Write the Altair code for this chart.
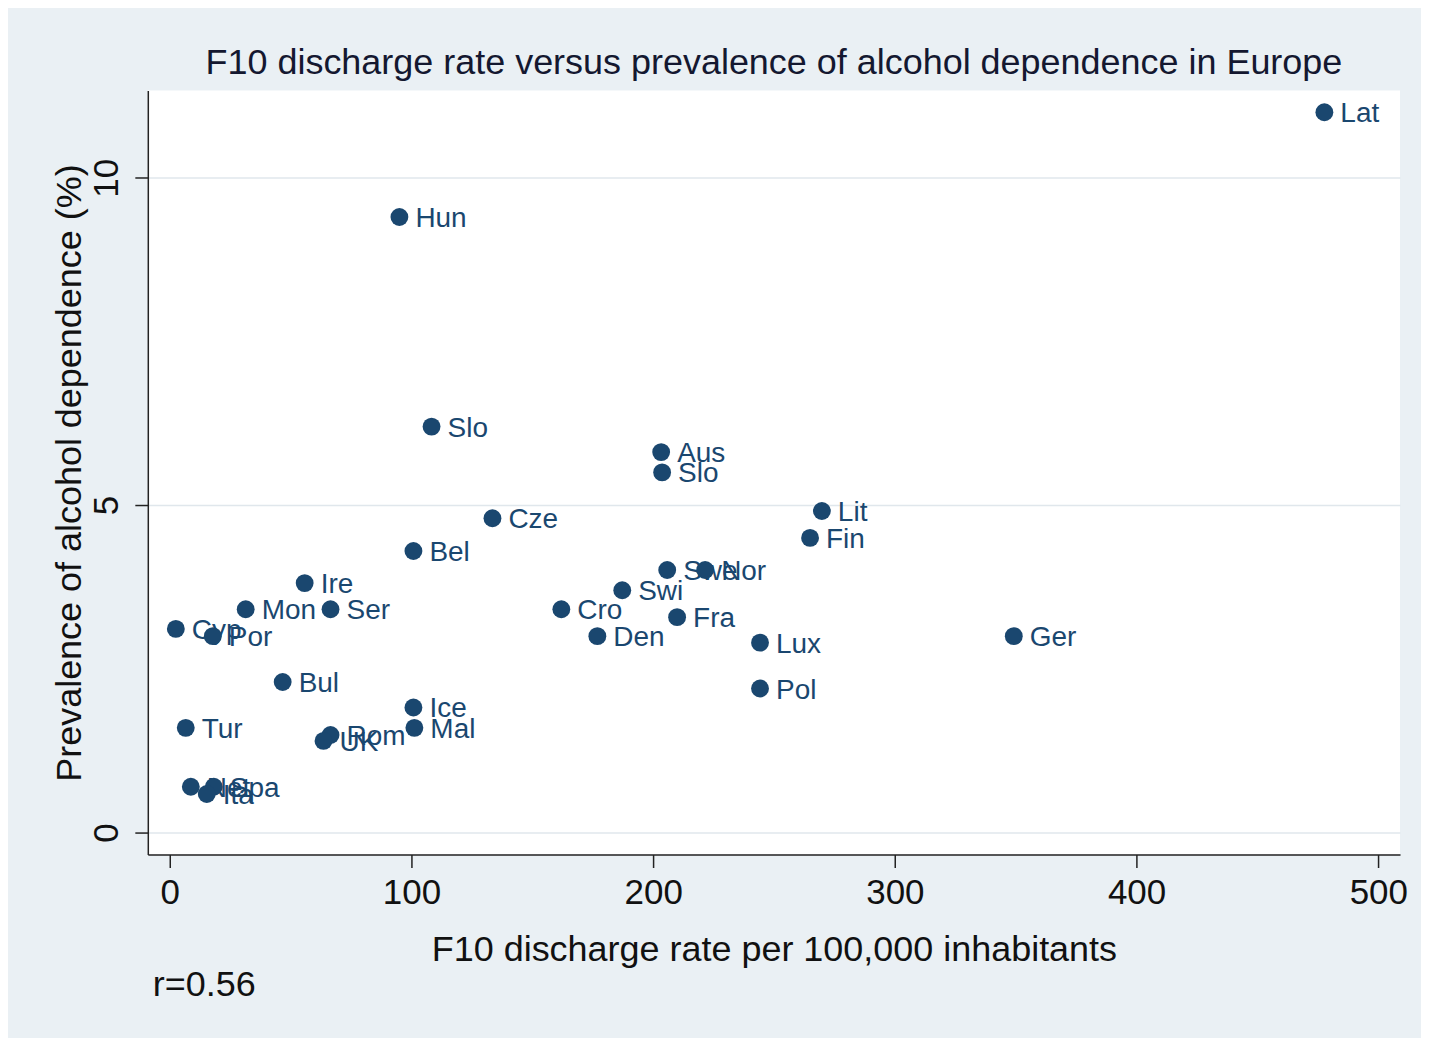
import altair as alt
import pandas as pd

countries = ["Lat", "Hun", "Slo", "Aus", "Slo", "Cze", "Lit", "Fin", "Bel", "Swe", "Nor",
             "Swi", "Ire", "Mon", "Ser", "Cro", "Fra", "Cyp", "Por", "Den", "Lux", "Ger",
             "Bul", "Pol", "Ice", "Mal", "Tur", "Rom", "UK", "Net", "Spa", "Ita"]
discharge = [477.7, 95.0, 108.3, 203.3, 203.7, 133.5, 269.8, 264.9, 100.8, 205.8, 221.5,
             187.2, 55.8, 31.4, 66.5, 162.0, 209.9, 2.5, 17.8, 176.9, 244.2, 349.2,
             46.7, 244.2, 100.8, 101.2, 6.6, 66.5, 63.6, 8.7, 18.2, 15.3]
prevalence = [11.0, 9.4, 6.2, 5.81, 5.5, 4.8, 4.91, 4.5, 4.3, 4.01, 4.01,
              3.7, 3.81, 3.41, 3.41, 3.41, 3.29, 3.11, 3.0, 3.0, 2.9, 3.0,
              2.3, 2.2, 1.91, 1.6, 1.6, 1.49, 1.4, 0.7, 0.7, 0.59]
x_ticks = [0, 100, 200, 300, 400, 500]
y_ticks = [0, 5, 10]
note = ["r=0.56"]

df = pd.DataFrame({"country": countries, "discharge": discharge, "prevalence": prevalence})
note_df = pd.DataFrame({"note": note})

FONT = "Liberation Sans"
NAVY = "#1a476f"
INK = "#111111"

x_enc = alt.X("discharge:Q",
              scale=alt.Scale(domain=[-9.1, 509], nice=False, zero=False),
              axis=alt.Axis(values=x_ticks, title="F10 discharge rate per 100,000 inhabitants",
                            grid=False, tickSize=13, labelPadding=8,
                            labelBaseline="top", titleBaseline="alphabetic", titleY=106))
y_enc = alt.Y("prevalence:Q",
              scale=alt.Scale(domain=[-0.335, 11.33], nice=False, zero=False),
              axis=alt.Axis(values=y_ticks, title="Prevalence of alcohol dependence (%)",
                            grid=True, gridColor="#E0E7EC", gridWidth=1.5,
                            tickSize=13, labelPadding=10, labelAngle=270,
                            labelAlign="center", labelBaseline="bottom",
                            titleAngle=270, titleBaseline="alphabetic", titleX=-67))

labels = alt.Chart(df).mark_text(
    align="left", baseline="middle", dx=16, dy=2, font=FONT, fontSize=28, color=NAVY
).encode(x=x_enc, y=y_enc, text="country:N")

points = alt.Chart(df).mark_circle(size=320, opacity=1, color=NAVY).encode(x=x_enc, y=y_enc)

note_layer = alt.Chart(note_df).mark_text(
    align="left", baseline="alphabetic", font=FONT, fontSize=36, color=INK
).encode(x=alt.value(5), y=alt.value(907), text="note:N")

chart = alt.layer(labels, points, note_layer).properties(
    width=1254, height=765,
    autosize=alt.AutoSizeParams(type="none"),
    padding={"left": 140, "top": 82, "right": 21, "bottom": 183},
    background="#EAF0F4",
    title=alt.TitleParams(
        "F10 discharge rate versus prevalence of alcohol dependence in Europe",
        anchor="middle", font=FONT, fontSize=36, fontWeight="normal",
        color="#141830", baseline="alphabetic", offset=15, dy=34),
).configure_view(fill="white", strokeWidth=0).configure_axis(
    domainColor="#222222", domainWidth=1.5, tickColor="#222222", tickWidth=1.5,
    labelFont=FONT, titleFont=FONT, labelFontSize=35, titleFontSize=36,
    labelColor=INK, titleColor=INK, titleFontWeight="normal",
)

chart.save("out.html", embed_options={"renderer": "svg", "actions": False})
